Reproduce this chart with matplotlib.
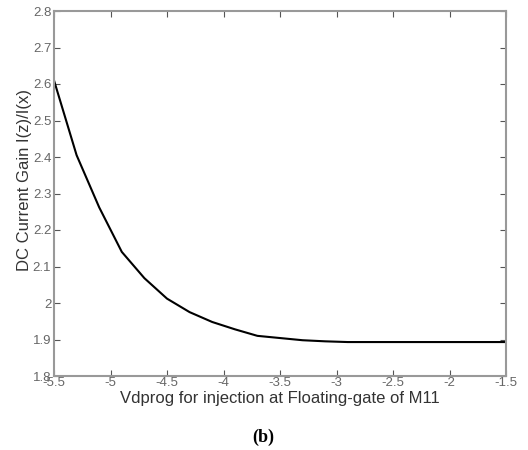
import numpy as np
import matplotlib.pyplot as plt

# gain curve
vdprog = [-5.5, -5.3, -5.1, -4.9, -4.7, -4.5, -4.3, -4.1, -3.9, -3.7, -3.5,
          -3.3, -3.1, -2.9, -2.7, -2.5, -2.3, -2.1, -1.9, -1.7, -1.5]
gain = [2.61, 2.405, 2.262, 2.14, 2.068, 2.012, 1.975, 1.948, 1.928, 1.91, 1.904,
        1.898, 1.895, 1.893, 1.893, 1.893, 1.893, 1.893, 1.893, 1.893, 1.893]

xticks = [-5.5, -5, -4.5, -4, -3.5, -3, -2.5, -2, -1.5]
xticklabels = ['-5.5', '-5', '-4.5', '-4', '-3.5', '-3', '-2.5', '-2', '-1.5']
yticks = [1.8, 1.9, 2.0, 2.1, 2.2, 2.3, 2.4, 2.5, 2.6, 2.7, 2.8]
yticklabels = ['1.8', '1.9', '2', '2.1', '2.2', '2.3', '2.4', '2.5', '2.6', '2.7', '2.8']

plt.rcParams['font.family'] = ['Liberation Sans', 'DejaVu Sans']

fig = plt.figure(figsize=(5.28, 4.5), dpi=100)
ax = fig.add_axes([54/528, 74/450, 452/528, 365/450])
ax.plot(vdprog, gain, c='k', lw=1.5)

ax.set_xlim(-5.5, -1.5)
ax.set_ylim(1.8, 2.8)
ax.set_xticks(xticks)
ax.set_xticklabels(xticklabels)
ax.set_yticks(yticks)
ax.set_yticklabels(yticklabels)
ax.tick_params(direction='in', top=True, right=True, length=4, width=0.8,
               color='#555555', labelcolor='#666666', labelsize=9.5)
ax.tick_params(axis='x', pad=1)
ax.tick_params(axis='y', pad=2)
for s in ax.spines.values():
    s.set_color('#999999')
    s.set_linewidth(1.5)

ax.set_xlabel('Vdprog for injection at Floating-gate of M11', fontsize=12,
              color='#333333', labelpad=1)
ax.set_ylabel('DC Current Gain I(z)/I(x)', fontsize=12, color='#333333')
ax.yaxis.set_label_coords(-0.049, 0.537)

fig.text(263/528, 1 - 437/450, '(b)', ha='center', va='center', fontsize=13,
         fontweight='bold', family='Liberation Serif')

fig.savefig('out.png', dpi=100)
